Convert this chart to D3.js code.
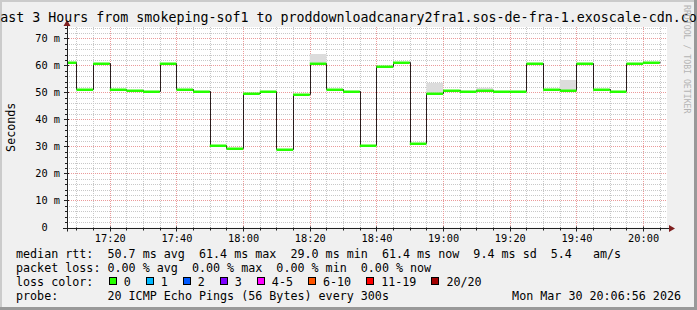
<!DOCTYPE html>
<html>
<head>
<meta charset="utf-8">
<script src="https://cdn.jsdelivr.net/npm/d3@7"></script>
<style>
html, body { margin: 0; padding: 0; background: #f0f0f0; }
svg { display: block; font-family: "DejaVu Sans Mono", monospace; }
text { white-space: pre; }
</style>
</head>
<body>
<svg id="chart" width="697" height="310"></svg>
<script>
// 5 minute steps, start time of each step
var stepStarts = ["17:05","17:10","17:15","17:20","17:25","17:30","17:35","17:40","17:45","17:50",
	"17:55","18:00","18:05","18:10","18:15","18:20","18:25","18:30","18:35","18:40",
	"18:45","18:50","18:55","19:00","19:05","19:10","19:15","19:20","19:25","19:30",
	"19:35","19:40","19:45","19:50","19:55","20:00"]
var lastStepEnd = "20:05"
// median rtt in ms
var medianMs = [61.4,51.4,60.9,51.4,51.0,50.7,61.0,51.4,50.7,30.5,
	29.4,49.8,50.7,29.0,49.4,61.0,51.4,50.7,30.6,59.9,
	61.3,31.2,49.9,51.0,50.7,51.0,50.7,50.7,61.0,51.4,
	50.9,61.0,51.4,50.7,61.0,61.4]
// top of the smoke where it shows above the median
var smokeTopMs = [null,null,null,null,null,null,null,null,null,null,
	null,null,null,null,null,64.2,null,null,null,null,
	null,null,53.5,null,null,51.7,null,null,null,null,
	54.6,null,null,null,null,null]
var yTicks = [0,10,20,30,40,50,60,70]
var lossLabels = ["0","1","2","3","4-5","6-10","11-19","20/20"]
var lossColors = ["#26ff00","#00b8ff","#0059ff","#7e00ff","#ff00ff","#ff5500","#ff0000","#a10000"]
var titleText = "Last 3 Hours from smokeping-sof1 to proddownloadcanary2fra1.sos-de-fra-1.exoscale-cdn.com"
var rttLine = "median rtt:  50.7 ms avg  61.4 ms max  29.0 ms min  61.4 ms now  9.4 ms sd  5.4   am/s"
var lossLine = "packet loss: 0.00 % avg  0.00 % max  0.00 % min  0.00 % now"
var probeLine = "probe:       20 ICMP Echo Pings (56 Bytes) every 300s"
var stampText = "Mon Mar 30 20:06:56 2026"

var chart = {}
chart.width = 697
chart.height = 310
chart.plot = {left: 67, right: 667, top: 27, bottom: 227.5}
chart.font_legend = 11.7
chart.font_axis = 10.3
chart.char_w = 7.05

var day = "2026-03-30 "
var parseTime = d3.timeParse("%Y-%m-%d %H:%M")
var parseSec = d3.timeParse("%Y-%m-%d %H:%M:%S")

var svg = d3.select('#chart')

var x = d3.scaleTime()
	.domain([parseSec(day + "17:07:10"), parseSec(day + "20:07:10")])
	.range([chart.plot.left, chart.plot.right])
var y = d3.scaleLinear()
	.domain([0, 74.2])
	.range([chart.plot.bottom, chart.plot.top])

var crisp = function(v) { return Math.round(v) + 0.5 }

var steps = stepStarts.map(function(s, i) {
	var end = i < stepStarts.length - 1 ? stepStarts[i+1] : lastStepEnd
	return {t0: parseTime(day + s), t1: parseTime(day + end), v: medianMs[i], smoke: smokeTopMs[i]}
})

// frame
svg.append('rect').attr('width', chart.width).attr('height', chart.height).attr('fill', '#f0f0f0')
svg.append('path').attr('d', 'M0,1H697M1,0V310').attr('stroke', '#cbcbcb').attr('stroke-width', 2)
svg.append('path').attr('d', 'M0,308.5H697M695.5,0V310').attr('stroke', '#999999').attr('stroke-width', 3)

svg.append('rect')
	.attr('x', chart.plot.left).attr('y', chart.plot.top)
	.attr('width', chart.plot.right - chart.plot.left)
	.attr('height', chart.plot.bottom - chart.plot.top)
	.attr('fill', '#ffffff')

svg.append('clipPath').attr('id', 'plotclip')
	.append('rect')
	.attr('x', chart.plot.left).attr('y', chart.plot.top)
	.attr('width', chart.plot.right - chart.plot.left)
	.attr('height', chart.plot.bottom - chart.plot.top + 1)

// grid
var grid = svg.append('g').attr('class', 'grid')
var minorX = x.ticks(d3.timeMinute.every(5)).filter(function(d){ return d.getMinutes() % 20 != 0 })
var majorX = x.ticks(d3.timeMinute.every(20))
var minorY = y.ticks(37).filter(function(d){ return d % 10 != 0 })

grid.selectAll('.minor-x').data(minorX).enter().append('line')
	.attr('x1', function(d){ return crisp(x(d)) }).attr('x2', function(d){ return crisp(x(d)) })
	.attr('y1', chart.plot.top).attr('y2', chart.plot.bottom)
	.attr('stroke', '#c8c8c8').attr('stroke-dasharray', '1,1')
grid.selectAll('.minor-y').data(minorY).enter().append('line')
	.attr('y1', function(d){ return crisp(y(d)) }).attr('y2', function(d){ return crisp(y(d)) })
	.attr('x1', chart.plot.left).attr('x2', chart.plot.right)
	.attr('stroke', '#c8c8c8').attr('stroke-dasharray', '1,1')
grid.selectAll('.major-x').data(majorX).enter().append('line')
	.attr('x1', function(d){ return crisp(x(d)) }).attr('x2', function(d){ return crisp(x(d)) })
	.attr('y1', chart.plot.top).attr('y2', chart.plot.bottom)
	.attr('stroke', '#eb9a9a').attr('stroke-dasharray', '1,1')
grid.selectAll('.major-y').data(yTicks.slice(1)).enter().append('line')
	.attr('y1', function(d){ return crisp(y(d)) }).attr('y2', function(d){ return crisp(y(d)) })
	.attr('x1', chart.plot.left).attr('x2', chart.plot.right)
	.attr('stroke', '#eb9a9a').attr('stroke-dasharray', '1,1')

// data
var data = svg.append('g').attr('clip-path', 'url(#plotclip)')

data.selectAll('.smoke')
	.data(steps.filter(function(d){ return d.smoke != null }))
	.enter().append('rect')
	.attr('class', 'smoke')
	.attr('x', function(d){ return x(d.t0) })
	.attr('width', function(d){ return x(d.t1) - x(d.t0) })
	.attr('y', function(d){ return y(d.smoke) })
	.attr('height', function(d){ return y(d.v) - y(d.smoke) })
	.attr('fill', '#dcdcdc')

var points = steps.map(function(d){ return [d.t0, d.v] })
points.push([steps[steps.length-1].t1, steps[steps.length-1].v])
var line = d3.line()
	.x(function(d){ return crisp(x(d[0])) })
	.y(function(d){ return crisp(y(d[1])) })
	.curve(d3.curveStepAfter)
data.append('path')
	.datum(points)
	.attr('d', line)
	.attr('fill', 'none')
	.attr('stroke', '#2a1c1c')
	.attr('stroke-width', 1)

data.selectAll('.median')
	.data(steps)
	.enter().append('rect')
	.attr('class', 'median')
	.attr('x', function(d){ return x(d.t0) })
	.attr('width', function(d){ return x(d.t1) - x(d.t0) })
	.attr('y', function(d){ return Math.round(y(d.v)) - 0.5 })
	.attr('height', 2.5)
	.attr('fill', lossColors[0])

// axes
var axis = svg.append('g')
axis.append('line')
	.attr('x1', chart.plot.left - 4).attr('x2', chart.plot.right + 3)
	.attr('y1', crisp(y(0))).attr('y2', crisp(y(0)))
	.attr('stroke', '#202020')
axis.append('line')
	.attr('x1', crisp(chart.plot.left - 0.5)).attr('x2', crisp(chart.plot.left - 0.5))
	.attr('y1', chart.plot.top - 4).attr('y2', chart.plot.bottom + 4)
	.attr('stroke', '#202020')
axis.append('path')
	.attr('d', 'M' + (chart.plot.left - 3.5) + ',' + (chart.plot.top - 1) + 'l3.5,-6l3.5,6z')
	.attr('fill', '#7f1f1f')
axis.append('path')
	.attr('d', 'M' + (chart.plot.right + 2) + ',' + (crisp(y(0)) - 3.5) + 'l6,3.5l-6,3.5z')
	.attr('fill', '#7f1f1f')

axis.selectAll('.ytick').data(yTicks.concat(minorY)).enter().append('line')
	.attr('y1', function(d){ return crisp(y(d)) }).attr('y2', function(d){ return crisp(y(d)) })
	.attr('x1', function(d){ return chart.plot.left - (d % 10 == 0 ? 3 : 2) })
	.attr('x2', function(d){ return chart.plot.left + (d % 10 == 0 ? 2 : 1) })
	.attr('stroke', '#202020')
axis.selectAll('.xtick').data(majorX.concat(minorX)).enter().append('line')
	.attr('x1', function(d){ return crisp(x(d)) }).attr('x2', function(d){ return crisp(x(d)) })
	.attr('y1', function(d){ return crisp(y(0)) - (d.getMinutes() % 20 == 0 ? 2 : 1) })
	.attr('y2', function(d){ return crisp(y(0)) + (d.getMinutes() % 20 == 0 ? 3 : 2) })
	.attr('stroke', '#202020')

var yAxis = d3.axisLeft(y)
	.tickValues(yTicks)
	.tickSize(0)
	.tickPadding(7)
	.tickFormat(function(d){ return d == 0 ? "0  " : d + " m" })
svg.append('g')
	.attr('transform', 'translate(' + chart.plot.left + ',0)')
	.call(yAxis)
	.call(function(g){ g.select('.domain').remove() })
	.selectAll('text')
	.attr('fill', '#000')
	.style('font-size', chart.font_axis + 'px')
	.style('font-family', '"DejaVu Sans Mono", monospace')

var xAxis = d3.axisBottom(x)
	.ticks(d3.timeMinute.every(20))
	.tickSize(0)
	.tickPadding(6)
	.tickFormat(d3.timeFormat("%H:%M"))
svg.append('g')
	.attr('transform', 'translate(0,' + crisp(y(0)) + ')')
	.call(xAxis)
	.call(function(g){ g.select('.domain').remove() })
	.selectAll('text')
	.attr('fill', '#000')
	.style('font-size', chart.font_axis + 'px')
	.style('font-family', '"DejaVu Sans Mono", monospace')

// titles
svg.append('text')
	.attr('x', chart.width / 2).attr('y', 22)
	.attr('text-anchor', 'middle')
	.style('font-size', '13.3px')
	.text(titleText)
svg.append('text')
	.attr('transform', 'translate(15,' + ((chart.plot.top + chart.plot.bottom) / 2) + ') rotate(-90)')
	.attr('text-anchor', 'middle')
	.style('font-size', chart.font_legend + 'px')
	.text('Seconds')
svg.append('text')
	.attr('transform', 'translate(684,5) rotate(90)')
	.attr('fill', '#b4b4b4')
	.style('font-size', '8.2px')
	.text('RRDTOOL / TOBI OETIKER')

// legend
var legend = svg.append('g').style('font-size', chart.font_legend + 'px')
var lx = 16
legend.append('text').attr('x', lx).attr('y', 257.5).text(rttLine)
legend.append('text').attr('x', lx).attr('y', 271.5).text(lossLine)
legend.append('text').attr('x', lx).attr('y', 285.5).text('loss color:')
legend.append('text').attr('x', lx).attr('y', 299.5).text(probeLine)
legend.append('text').attr('x', 681).attr('y', 299.5).attr('text-anchor', 'end').text(stampText)

var bx = lx + 13 * chart.char_w + 1
lossLabels.forEach(function(label, i) {
	legend.append('rect')
		.attr('x', Math.round(bx) + 0.5).attr('y', 277.5)
		.attr('width', 7).attr('height', 7)
		.attr('fill', lossColors[i])
		.attr('stroke', '#000')
	legend.append('text').attr('x', bx + 15).attr('y', 285.5).text(label)
	bx = bx + 15 + label.length * chart.char_w + 15
})
</script>
</body>
</html>
